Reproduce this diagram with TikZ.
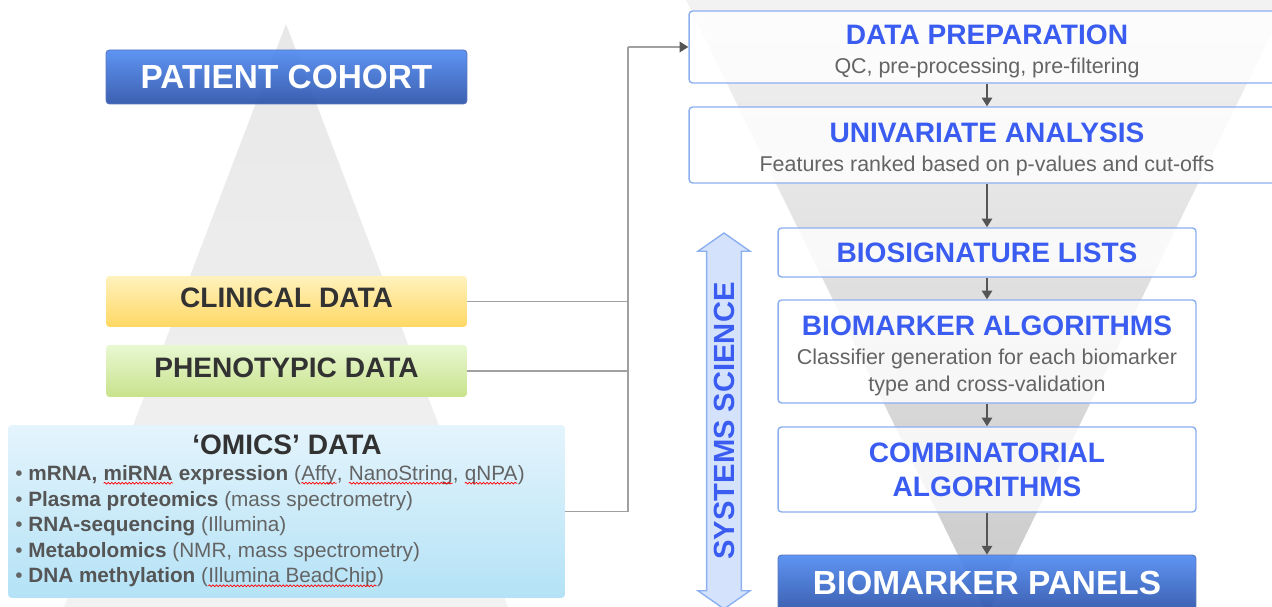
\documentclass[tikz,border=0pt]{standalone}
\usepackage{fontspec}
\setmainfont{Liberation Sans}
\usetikzlibrary{positioning,arrows.meta,shapes.arrows,decorations.pathmorphing}

\definecolor{headblue}{RGB}{58,92,240}
\definecolor{boxline}{RGB}{140,175,240}
\definecolor{subgray}{RGB}{100,100,100}
\definecolor{darktext}{RGB}{50,50,50}
\definecolor{itemgray}{RGB}{85,85,85}
\definecolor{linkgray}{RGB}{160,160,160}
\definecolor{flowgray}{RGB}{85,85,85}
\definecolor{cohorttop}{RGB}{82,140,242}
\definecolor{cohortbot}{RGB}{46,84,170}
\definecolor{clintop}{RGB}{255,242,190}
\definecolor{clinbot}{RGB}{255,216,100}
\definecolor{phentop}{RGB}{232,248,210}
\definecolor{phenbot}{RGB}{200,226,140}
\definecolor{omictop}{RGB}{228,244,252}
\definecolor{omicbot}{RGB}{180,226,246}
\definecolor{scifill}{RGB}{212,227,251}

\newcommand{\headfont}{\fontsize{16}{19.4}\selectfont\bfseries}
\newcommand{\subfont}{\fontsize{12.2}{15.4}\selectfont}
\newcommand{\bigfont}{\fontsize{19}{22}\selectfont\bfseries}
\newcommand{\itemfont}{\fontsize{11.8}{14.6}\selectfont}
% step title with a strut on top
\newcommand{\steptitle}[1]{\rule{0pt}{16pt}{\headfont\color{headblue}#1}}
% red spell-check wave under a word
\newcommand{\spell}[1]{\tikz[baseline=(w.base)]{\node[inner sep=0pt, outer sep=0pt] (w) {#1};
  \draw[red, line width=0.4pt, decorate, decoration={snake, amplitude=0.5pt, segment length=2pt}]
    ([yshift=-1.6pt]w.base west) -- ([yshift=-1.6pt]w.base east);}}

\begin{document}
\begin{tikzpicture}[x=0.02cm, y=-0.02cm,
    box/.style={rectangle, rounded corners=2pt, align=center, inner sep=0pt},
    leftbox/.style={box, minimum width=7.22cm, font=\headfont, text=darktext, text depth=4pt},
    stepbox/.style={box, draw=boxline, line width=0.8pt, fill=white, fill opacity=0.8, text opacity=1, font=\subfont, text=subgray},
    bluebox/.style={box, draw=cohortbot!80, line width=0.5pt, top color=cohorttop, bottom color=cohortbot, fill opacity=0.93, text opacity=1, text=white, font=\bigfont},
    link/.style={draw=linkgray, line width=1pt},
    flow/.style={-{Triangle[length=5pt, width=6pt]}, draw=flowgray, line width=0.8pt},
]
\clip (0,0) rectangle (1272,607);

% Background pyramid and funnel
\shade[top color=black!9, bottom color=black!5] (286,24) -- (508,607) -- (64,607) -- cycle;
\shade[top color=black!5, bottom color=black!21] (686,0) -- (1288,0) -- (987,614) -- cycle;

% Left column
\node[bluebox, minimum width=7.22cm, minimum height=1.08cm] (cohort) at (286.5,77) {PATIENT COHORT};
\node[leftbox, minimum height=1.02cm, top color=clintop, bottom color=clinbot] (clin) at (286.5,301.5) {CLINICAL DATA};
\node[leftbox, minimum height=1.04cm, top color=phentop, bottom color=phenbot] (phen) at (286.5,371) {PHENOTYPIC DATA};
\node[box, minimum width=11.14cm, minimum height=3.46cm, top color=omictop, bottom color=omicbot] (omics) at (286.5,511.5) {};
\node[font=\headfont, text=darktext, inner sep=0pt] (omicshead) at (287,445) {‘OMICS’ DATA};
\node[font=\itemfont, text=subgray, align=left, anchor=north west, inner sep=0pt] (omicslist) at (15,465) {%
  • \textbf{\color{itemgray}mRNA, \spell{miRNA} expression}  (\spell{Affy}, \spell{NanoString}, \spell{qNPA})\\
  • \textbf{\color{itemgray}Plasma proteomics}  (mass spectrometry)\\
  • \textbf{\color{itemgray}RNA-sequencing} (Illumina)\\
  • \textbf{\color{itemgray}Metabolomics}  (NMR, mass spectrometry)\\
  • \textbf{\color{itemgray}DNA methylation}  (\spell{Illumina BeadChip})};

% Right column
\node[stepbox, minimum width=11.92cm, minimum height=1.44cm] (prep) at (987,47)
  {\steptitle{DATA PREPARATION}\\[1pt] QC, pre-processing, pre-filtering};
\node[stepbox, minimum width=11.92cm, minimum height=1.52cm] (uni) at (987,145)
  {\steptitle{UNIVARIATE ANALYSIS}\\[1pt] Features ranked based on p-values and cut-offs};
\node[stepbox, minimum width=8.36cm, minimum height=0.98cm, font=\headfont, text=headblue] (sig) at (987,252.5) {BIOSIGNATURE LISTS};
\node[stepbox, minimum width=8.36cm, minimum height=2.06cm] (algo) at (987,351.5)
  {\steptitle{BIOMARKER ALGORITHMS}\\[1pt] Classifier generation for each biomarker\\ type and cross-validation};
\node[stepbox, minimum width=8.36cm, minimum height=1.70cm, font=\headfont, text=headblue] (comb) at (987,469.5)
  {COMBINATORIAL\\ ALGORITHMS};
\node[bluebox, minimum width=8.36cm, minimum height=1.12cm] (panel) at (987,583) {BIOMARKER PANELS};

% Systems science arrow
\node[double arrow, rotate=90, draw=boxline, line width=0.8pt, fill=scifill,
  minimum height=7.52cm, minimum width=1.04cm, double arrow head extend=0.11cm,
  double arrow tip angle=110, inner sep=0pt,
  font=\fontsize{16.6}{19}\selectfont\bfseries, text=headblue] (sci) at (724,421) {SYSTEMS SCIENCE};

% Connectors
\coordinate (bus) at (628,47);
\draw[link] (clin.east) -- (clin.east -| bus);
\draw[link] (phen.east) -- (phen.east -| bus);
\draw[link] (omics.east) -| (bus);
\draw[link, -{Triangle[length=5pt, width=6pt, color=flowgray]}] (bus) -- (prep.west);

\draw[flow] (prep) -- (uni);
\draw[flow] (uni) -- (sig);
\draw[flow] (sig) -- (algo);
\draw[flow] (algo) -- (comb);
\draw[flow] (comb) -- (panel);
\end{tikzpicture}
\end{document}
